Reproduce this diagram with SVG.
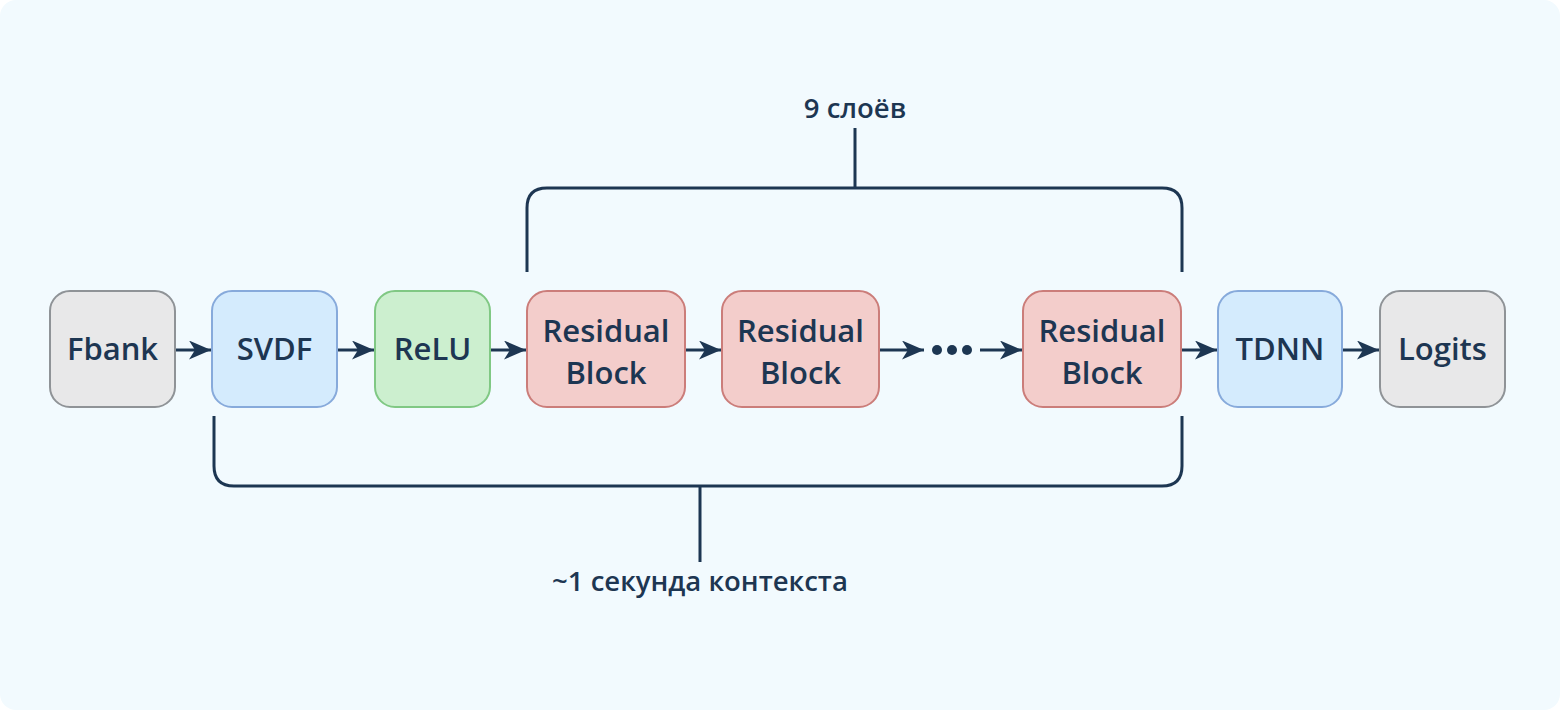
<svg xmlns="http://www.w3.org/2000/svg" width="1560" height="710" viewBox="0 0 1560 710">
<style>
.node rect{stroke-width:2}
.gray rect{fill:#e8e8e9;stroke:#8f9397}
.blue rect{fill:#d4ebfd;stroke:#87aadb}
.green rect{fill:#ccefcf;stroke:#80c884}
.red rect{fill:#f3cdcb;stroke:#cb7d7a}
text{font-family:"Open Sans","Noto Sans",sans-serif;font-weight:600;fill:#1d3652;text-anchor:middle}
.nt{font-size:31px}
.lt{font-size:27.5px}
.conn line{stroke:#1d3652;stroke-width:3}
.br{fill:none;stroke:#1d3652;stroke-width:3}
</style>
<defs>
<marker id="ah" viewBox="0 0 22 19" refX="22" refY="9.5" markerWidth="22" markerHeight="19" markerUnits="userSpaceOnUse" orient="auto">
<path d="M0,0 L22,9.5 L0,19 L6,9.5 Z" fill="#1d3652"/>
</marker>
</defs>
<rect x="0" y="0" width="1560" height="710" fill="#ffffff"/>
<rect x="0" y="0" width="1560" height="710" rx="16" fill="#f2fafe"/>

<g id="fbank" class="node gray"><rect x="50" y="291" width="125" height="116" rx="20"/><text class="nt" x="112.5" y="360">Fbank</text></g>
<g id="svdf" class="node blue"><rect x="212" y="291" width="125" height="116" rx="20"/><text class="nt" x="274.5" y="360">SVDF</text></g>
<g id="relu" class="node green"><rect x="375" y="291" width="115" height="116" rx="20"/><text class="nt" x="432.5" y="360">ReLU</text></g>
<g id="res1" class="node red"><rect x="527" y="291" width="158" height="116" rx="20"/><text class="nt" x="606" y="342">Residual</text><text class="nt" x="606" y="384">Block</text></g>
<g id="res2" class="node red"><rect x="722" y="291" width="157" height="116" rx="20"/><text class="nt" x="800.5" y="342">Residual</text><text class="nt" x="800.5" y="384">Block</text></g>
<g id="res3" class="node red"><rect x="1023" y="291" width="158" height="116" rx="20"/><text class="nt" x="1102" y="342">Residual</text><text class="nt" x="1102" y="384">Block</text></g>
<g id="tdnn" class="node blue"><rect x="1218" y="291" width="124" height="116" rx="20"/><text class="nt" x="1280" y="360">TDNN</text></g>
<g id="logits" class="node gray"><rect x="1380" y="291" width="125" height="116" rx="20"/><text class="nt" x="1442.5" y="360">Logits</text></g>

<g id="dots" fill="#1d3652"><circle cx="937" cy="350" r="5"/><circle cx="952" cy="350" r="5"/><circle cx="967" cy="350" r="5"/></g>

<g id="connectors" class="conn">
<line x1="176" y1="350" x2="211" y2="350" marker-end="url(#ah)"/>
<line x1="338" y1="350" x2="374" y2="350" marker-end="url(#ah)"/>
<line x1="491" y1="350" x2="526" y2="350" marker-end="url(#ah)"/>
<line x1="686" y1="350" x2="721" y2="350" marker-end="url(#ah)"/>
<line x1="880" y1="350" x2="924" y2="350" marker-end="url(#ah)"/>
<line x1="980" y1="350" x2="1022" y2="350" marker-end="url(#ah)"/>
<line x1="1182" y1="350" x2="1217" y2="350" marker-end="url(#ah)"/>
<line x1="1343" y1="350" x2="1379" y2="350" marker-end="url(#ah)"/>
</g>

<g id="bracket-top">
<path class="br" d="M527,272 V208 Q527,188 547,188 H1162 Q1182,188 1182,208 V272"/>
<path class="br" d="M855,188 V128"/>
<text class="lt" x="855" y="118">9 слоёв</text>
</g>
<g id="bracket-bottom">
<path class="br" d="M214,416 V466 Q214,486 234,486 H1162 Q1182,486 1182,466 V416"/>
<path class="br" d="M700,486 V562"/>
<text class="lt" x="700" y="591">~1 секунда контекста</text>
</g>
</svg>
